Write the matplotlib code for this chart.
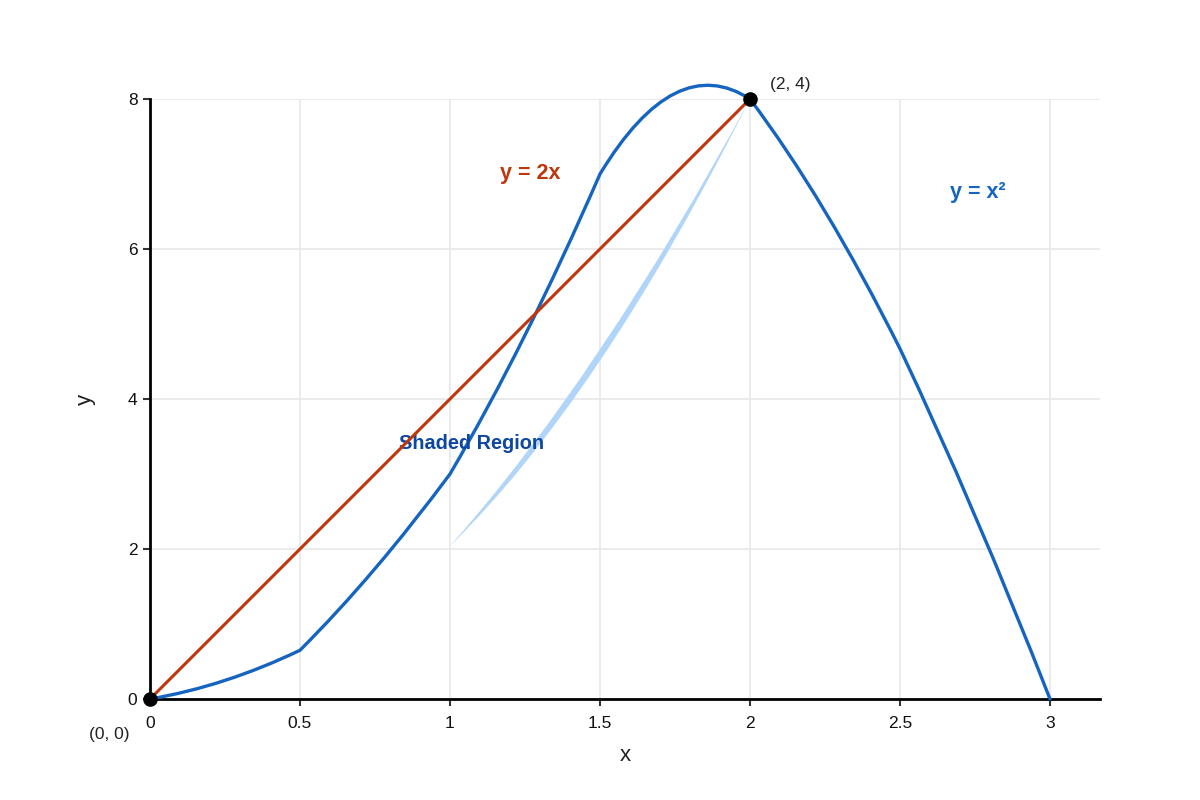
import matplotlib.pyplot as plt
from matplotlib.path import Path
from matplotlib.patches import PathPatch

plt.rcParams['font.family'] = ['Liberation Sans', 'DejaVu Sans']

# curve "y = x^2" as drawn: anchor points and quadratic control heights per segment
blue_x = [0, 0.5, 1, 1.5, 2, 2.5, 3]
blue_y = [0, 0.65, 3.0, 7.0, 8.0, 4.67, 0]
blue_ctrl_y = [0.17, 1.65, 4.7, 8.65, 6.67, 2.56]

# straight line y = 2x
red_x = [0, 2]
red_y = [0, 8]

# shaded sliver between two quadratic edges
shade_x = [1, 2]
shade_y = [2.04, 8]
shade_ctrl_y = [4.0, 4.3]

# intersection points and their labels
pt_x = [0, 2]
pt_y = [0, 8]
pt_labels = ['(0, 0)', '(2, 4)']

x_ticks = [0, 0.5, 1, 1.5, 2, 2.5, 3]
x_tick_labels = ['0', '0.5', '1', '1.5', '2', '2.5', '3']
y_ticks = [0, 2, 4, 6, 8]

BLUE = '#1565c0'
RED = '#bf360c'


def quad_path(xs, ys, ctrl):
    verts = [(xs[0], ys[0])]
    codes = [Path.MOVETO]
    for i in range(len(xs) - 1):
        verts.append(((xs[i] + xs[i + 1]) / 2, ctrl[i]))
        verts.append((xs[i + 1], ys[i + 1]))
        codes += [Path.CURVE3, Path.CURVE3]
    return verts, codes


fig = plt.figure(figsize=(12, 8), dpi=100)
ax = fig.add_axes([0.125, 0.12625, 0.79167, 0.75])
ax.set_xlim(0, 3.1667)
ax.set_ylim(0, 8)

# grid
ax.set_xticks(x_ticks)
ax.set_xticklabels(x_tick_labels)
ax.set_yticks(y_ticks)
ax.grid(True, color='#e8e8e8', linewidth=1.2)
ax.set_axisbelow(True)

# shaded region
v1, c1 = quad_path(shade_x, shade_y, [shade_ctrl_y[0]])
v2, c2 = quad_path(shade_x[::-1], shade_y[::-1], [shade_ctrl_y[1]])
verts = v1 + v2[1:] + [v1[0]]
codes = c1 + c2[1:] + [Path.CLOSEPOLY]
ax.add_patch(PathPatch(Path(verts, codes), facecolor='#b1d5f8', edgecolor='none', zorder=2, clip_on=False))

# blue curve
bv, bc = quad_path(blue_x, blue_y, blue_ctrl_y)
ax.add_patch(PathPatch(Path(bv, bc), facecolor='none', edgecolor=BLUE, linewidth=2.4,
                       zorder=3, clip_on=False, capstyle='round', joinstyle='round'))

# red line
ax.plot(red_x, red_y, color=RED, linewidth=2.2, zorder=4, clip_on=False)

# points
ax.plot(pt_x, pt_y, 'o', color='black', markersize=9.5, zorder=6, clip_on=False)
ax.text(pt_x[0] - 0.137, pt_y[0] - 0.47, pt_labels[0], fontsize=12.5, color='#222222',
        ha='center', va='center')
ax.text(pt_x[1] + 0.067, pt_y[1] + 0.19, pt_labels[1], fontsize=12.5, color='#222222',
        ha='left', va='center')

# annotations
ax.text(1.267, 7.01, 'y = 2x', fontsize=15.5, fontweight='bold', color=RED, ha='center', va='center')
ax.text(2.76, 6.75, 'y = x²', fontsize=15.5, fontweight='bold', color=BLUE, ha='center', va='center')
ax.text(1.073, 3.41, 'Shaded Region', fontsize=14.3, fontweight='bold', color='#0d47a1',
        ha='center', va='center')

# axes styling
for side in ['top', 'right']:
    ax.spines[side].set_visible(False)
for side in ['left', 'bottom']:
    ax.spines[side].set_linewidth(2)
    ax.spines[side].set_color('black')
ax.tick_params(axis='both', length=5, width=1.5, color='#333333', labelsize=12.5,
               labelcolor='#111111')
ax.tick_params(axis='x', pad=7)
ax.tick_params(axis='y', pad=4)

ax.set_xlabel('x', fontsize=16, color='#222222', labelpad=10)
ax.set_ylabel('y', fontsize=16, color='#222222', labelpad=23)

fig.savefig('out.png', dpi=100)
